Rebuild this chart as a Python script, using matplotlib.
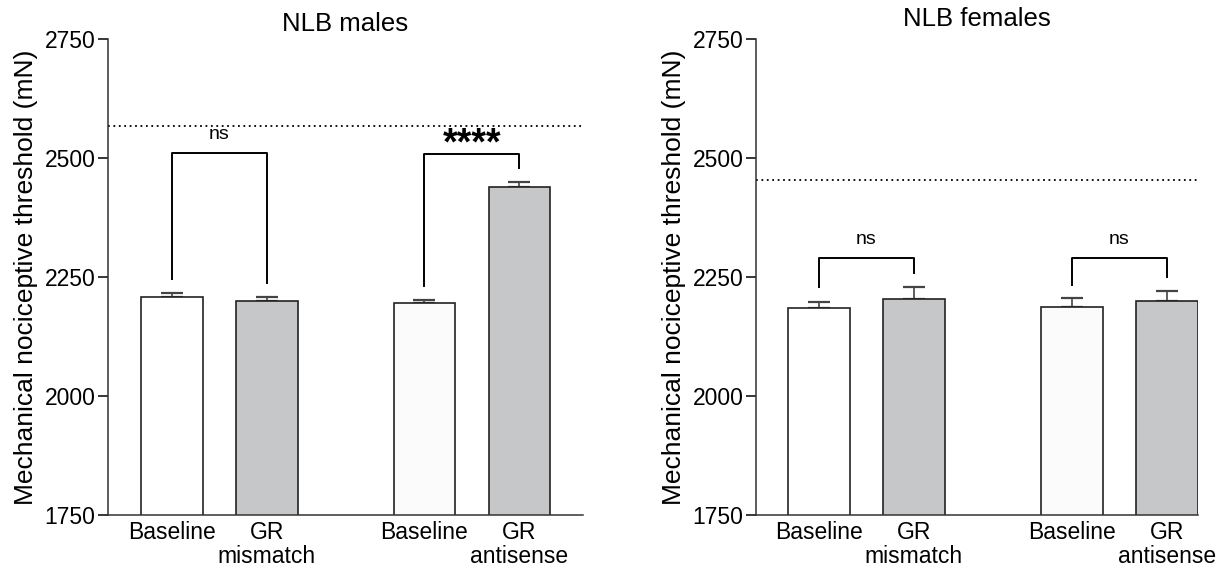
import numpy as np
import matplotlib.pyplot as plt

plt.rcParams['font.family'] = ['Liberation Sans', 'DejaVu Sans']

# data
labels_m = ['Baseline', 'GR\nmismatch', 'Baseline', 'GR\nantisense']
labels_f = ['Baseline', 'GR\nmismatch', 'Baseline', 'GR\nantisense']
males_mean = [2208, 2199, 2195, 2440]
males_sem = [8, 9, 7, 10]
females_mean = [2184, 2204, 2188, 2200]
females_sem = [13, 25, 17, 21]
males_naive = 2568
females_naive = 2454

# bracket: (left bar, right bar, top, left leg end, right leg end, text)
males_brackets = [(0, 1, 2510, 2245, 2238, 'ns'), (2, 3, 2508, 2231, 2479, '****')]
females_brackets = [(0, 1, 2289, 2228, 2259, 'ns'), (2, 3, 2289, 2234, 2249, 'ns')]

pos = np.array([0, 1, 2.66, 3.66])
colors = ['#ffffff', '#c6c7c9', '#fbfbfb', '#c6c7c9']


def draw_panel(ax, means, sems, labels, naive, brackets, title, xlim, title_pad):
    ax.bar(pos, means, width=0.65, bottom=0, color=colors, edgecolor='#222222',
           linewidth=1.2, zorder=2)
    ax.errorbar(pos, means, yerr=[np.zeros(4), sems], fmt='none', ecolor='#444444',
                elinewidth=1.2, capsize=8, capthick=1.6, zorder=1)
    ax.axhline(naive, color='black', linestyle=(0, (1, 2)), linewidth=1.3)
    for a, b, top, ya, yb, txt in brackets:
        ax.plot([pos[a], pos[a], pos[b], pos[b]], [ya, top, top, yb],
                color='black', linewidth=1.4)
        if txt == 'ns':
            ax.text((pos[a] + pos[b]) / 2, top + 22, txt, ha='center', va='bottom',
                    fontsize=14)
        else:
            ax.text((pos[a] + pos[b]) / 2, top - 18, txt, ha='center', va='bottom',
                    fontsize=27, fontweight='bold')
    ax.set_ylim(1750, 2750)
    ax.set_xlim(*xlim)
    ax.set_yticks([1750, 2000, 2250, 2500, 2750])
    ax.set_xticks(pos)
    ax.set_xticklabels(labels, fontsize=16.5, linespacing=1.1)
    ax.tick_params(axis='x', length=0, pad=4)
    ax.tick_params(axis='y', length=7, width=1.1, labelsize=16.5, pad=2)
    for s in ['top', 'right']:
        ax.spines[s].set_visible(False)
    for s in ['left', 'bottom']:
        ax.spines[s].set_linewidth(1.1)
        ax.spines[s].set_color('#333333')
    ax.set_ylabel('Mechanical nociceptive threshold (mN)', fontsize=19, labelpad=5)
    ax.set_title(title, fontsize=18.5, pad=title_pad)


fig = plt.figure(figsize=(12.23, 5.7), dpi=100)
ax1 = fig.add_axes([108 / 1223, 55 / 570, 475 / 1223, 476 / 570])
ax2 = fig.add_axes([756 / 1223, 55 / 570, 442 / 1223, 476 / 570])

draw_panel(ax1, males_mean, males_sem, labels_m, males_naive, males_brackets,
           'NLB males', (-0.674, 4.33), 6)
draw_panel(ax2, females_mean, females_sem, labels_f, females_naive, females_brackets,
           'NLB females', (-0.663, 3.99), 9)

fig.savefig('out.png', dpi=100)
